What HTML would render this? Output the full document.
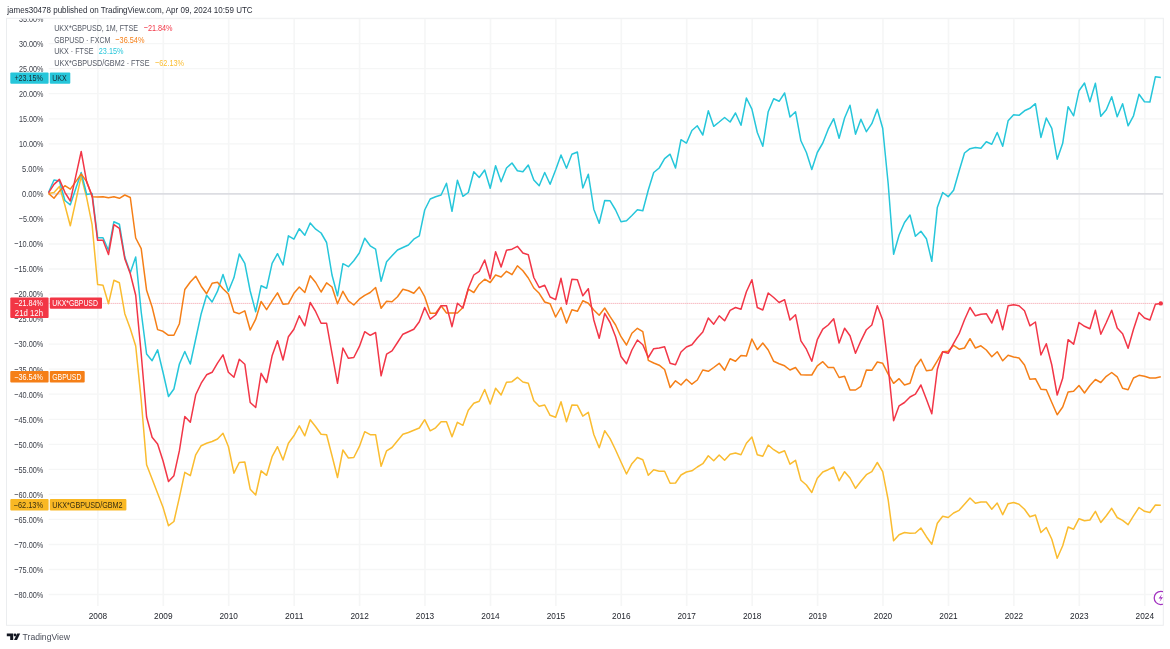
<!DOCTYPE html><html><head><meta charset="utf-8"><title>chart</title><style>html,body{margin:0;padding:0;background:#fff;width:1170px;height:649px;overflow:hidden}svg{position:absolute;left:0;top:0;display:block;will-change:transform}text{font-family:"Liberation Sans",sans-serif}</style></head><body>
<svg width="1170" height="649" viewBox="0 0 1170 649">
<rect x="0" y="0" width="1170" height="649" fill="#fff"/>
<text x="7.3" y="13.0" font-size="9.2" fill="#2a2e39" textLength="245.3" lengthAdjust="spacingAndGlyphs">james30478 published on TradingView.com, Apr 09, 2024 10:59 UTC</text>
<rect x="6.5" y="18.3" width="1156.8" height="607.0" fill="none" stroke="#ebedef" stroke-width="1"/>
<defs><clipPath id="cp"><rect x="7" y="18.8" width="1156" height="606"/></clipPath><clipPath id="pl"><rect x="48" y="18.8" width="1115.3" height="587.2"/></clipPath></defs>
<g clip-path="url(#cp)">
<line x1="48.7" y1="18.6" x2="1163.3" y2="18.6" stroke="#f5f6f6" stroke-width="1.3"/>
<line x1="48.7" y1="43.7" x2="1163.3" y2="43.7" stroke="#f5f6f6" stroke-width="1.3"/>
<line x1="48.7" y1="68.7" x2="1163.3" y2="68.7" stroke="#f5f6f6" stroke-width="1.3"/>
<line x1="48.7" y1="93.7" x2="1163.3" y2="93.7" stroke="#f5f6f6" stroke-width="1.3"/>
<line x1="48.7" y1="118.8" x2="1163.3" y2="118.8" stroke="#f5f6f6" stroke-width="1.3"/>
<line x1="48.7" y1="143.8" x2="1163.3" y2="143.8" stroke="#f5f6f6" stroke-width="1.3"/>
<line x1="48.7" y1="168.9" x2="1163.3" y2="168.9" stroke="#f5f6f6" stroke-width="1.3"/>
<line x1="48.7" y1="218.9" x2="1163.3" y2="218.9" stroke="#f5f6f6" stroke-width="1.3"/>
<line x1="48.7" y1="244.0" x2="1163.3" y2="244.0" stroke="#f5f6f6" stroke-width="1.3"/>
<line x1="48.7" y1="269.0" x2="1163.3" y2="269.0" stroke="#f5f6f6" stroke-width="1.3"/>
<line x1="48.7" y1="294.1" x2="1163.3" y2="294.1" stroke="#f5f6f6" stroke-width="1.3"/>
<line x1="48.7" y1="319.1" x2="1163.3" y2="319.1" stroke="#f5f6f6" stroke-width="1.3"/>
<line x1="48.7" y1="344.1" x2="1163.3" y2="344.1" stroke="#f5f6f6" stroke-width="1.3"/>
<line x1="48.7" y1="369.2" x2="1163.3" y2="369.2" stroke="#f5f6f6" stroke-width="1.3"/>
<line x1="48.7" y1="394.2" x2="1163.3" y2="394.2" stroke="#f5f6f6" stroke-width="1.3"/>
<line x1="48.7" y1="419.3" x2="1163.3" y2="419.3" stroke="#f5f6f6" stroke-width="1.3"/>
<line x1="48.7" y1="444.3" x2="1163.3" y2="444.3" stroke="#f5f6f6" stroke-width="1.3"/>
<line x1="48.7" y1="469.3" x2="1163.3" y2="469.3" stroke="#f5f6f6" stroke-width="1.3"/>
<line x1="48.7" y1="494.4" x2="1163.3" y2="494.4" stroke="#f5f6f6" stroke-width="1.3"/>
<line x1="48.7" y1="519.4" x2="1163.3" y2="519.4" stroke="#f5f6f6" stroke-width="1.3"/>
<line x1="48.7" y1="544.5" x2="1163.3" y2="544.5" stroke="#f5f6f6" stroke-width="1.3"/>
<line x1="48.7" y1="569.5" x2="1163.3" y2="569.5" stroke="#f5f6f6" stroke-width="1.3"/>
<line x1="48.7" y1="594.5" x2="1163.3" y2="594.5" stroke="#f5f6f6" stroke-width="1.3"/>
<line x1="97.9" y1="18.5" x2="97.9" y2="606" stroke="#f5f6f6" stroke-width="1.6"/>
<line x1="163.3" y1="18.5" x2="163.3" y2="606" stroke="#f5f6f6" stroke-width="1.6"/>
<line x1="228.7" y1="18.5" x2="228.7" y2="606" stroke="#f5f6f6" stroke-width="1.6"/>
<line x1="294.2" y1="18.5" x2="294.2" y2="606" stroke="#f5f6f6" stroke-width="1.6"/>
<line x1="359.6" y1="18.5" x2="359.6" y2="606" stroke="#f5f6f6" stroke-width="1.6"/>
<line x1="425.0" y1="18.5" x2="425.0" y2="606" stroke="#f5f6f6" stroke-width="1.6"/>
<line x1="490.5" y1="18.5" x2="490.5" y2="606" stroke="#f5f6f6" stroke-width="1.6"/>
<line x1="555.9" y1="18.5" x2="555.9" y2="606" stroke="#f5f6f6" stroke-width="1.6"/>
<line x1="621.3" y1="18.5" x2="621.3" y2="606" stroke="#f5f6f6" stroke-width="1.6"/>
<line x1="686.7" y1="18.5" x2="686.7" y2="606" stroke="#f5f6f6" stroke-width="1.6"/>
<line x1="752.2" y1="18.5" x2="752.2" y2="606" stroke="#f5f6f6" stroke-width="1.6"/>
<line x1="817.6" y1="18.5" x2="817.6" y2="606" stroke="#f5f6f6" stroke-width="1.6"/>
<line x1="883.0" y1="18.5" x2="883.0" y2="606" stroke="#f5f6f6" stroke-width="1.6"/>
<line x1="948.5" y1="18.5" x2="948.5" y2="606" stroke="#f5f6f6" stroke-width="1.6"/>
<line x1="1013.9" y1="18.5" x2="1013.9" y2="606" stroke="#f5f6f6" stroke-width="1.6"/>
<line x1="1079.3" y1="18.5" x2="1079.3" y2="606" stroke="#f5f6f6" stroke-width="1.6"/>
<line x1="1144.8" y1="18.5" x2="1144.8" y2="606" stroke="#f5f6f6" stroke-width="1.6"/>
<line x1="48.7" y1="193.9" x2="1163.3" y2="193.9" stroke="#dcdde2" stroke-width="1.6"/>
<text x="19.0" y="21.9" font-size="9.6" fill="#3d404a" textLength="24.4" lengthAdjust="spacingAndGlyphs">35.00%</text>
<text x="19.0" y="47.0" font-size="9.6" fill="#3d404a" textLength="24.4" lengthAdjust="spacingAndGlyphs">30.00%</text>
<text x="19.0" y="72.0" font-size="9.6" fill="#3d404a" textLength="24.4" lengthAdjust="spacingAndGlyphs">25.00%</text>
<text x="19.0" y="97.0" font-size="9.6" fill="#3d404a" textLength="24.4" lengthAdjust="spacingAndGlyphs">20.00%</text>
<text x="19.0" y="122.1" font-size="9.6" fill="#3d404a" textLength="24.4" lengthAdjust="spacingAndGlyphs">15.00%</text>
<text x="19.0" y="147.1" font-size="9.6" fill="#3d404a" textLength="24.4" lengthAdjust="spacingAndGlyphs">10.00%</text>
<text x="22.0" y="172.2" font-size="9.6" fill="#3d404a" textLength="21.4" lengthAdjust="spacingAndGlyphs">5.00%</text>
<text x="22.0" y="197.2" font-size="9.6" fill="#3d404a" textLength="21.4" lengthAdjust="spacingAndGlyphs">0.00%</text>
<text x="18.7" y="222.2" font-size="9.6" fill="#3d404a" textLength="24.7" lengthAdjust="spacingAndGlyphs">−5.00%</text>
<text x="14.2" y="247.3" font-size="9.6" fill="#3d404a" textLength="29.2" lengthAdjust="spacingAndGlyphs">−10.00%</text>
<text x="14.2" y="272.3" font-size="9.6" fill="#3d404a" textLength="29.2" lengthAdjust="spacingAndGlyphs">−15.00%</text>
<text x="14.2" y="297.4" font-size="9.6" fill="#3d404a" textLength="29.2" lengthAdjust="spacingAndGlyphs">−20.00%</text>
<text x="14.2" y="322.4" font-size="9.6" fill="#3d404a" textLength="29.2" lengthAdjust="spacingAndGlyphs">−25.00%</text>
<text x="14.2" y="347.4" font-size="9.6" fill="#3d404a" textLength="29.2" lengthAdjust="spacingAndGlyphs">−30.00%</text>
<text x="14.2" y="372.5" font-size="9.6" fill="#3d404a" textLength="29.2" lengthAdjust="spacingAndGlyphs">−35.00%</text>
<text x="14.2" y="397.5" font-size="9.6" fill="#3d404a" textLength="29.2" lengthAdjust="spacingAndGlyphs">−40.00%</text>
<text x="14.2" y="422.6" font-size="9.6" fill="#3d404a" textLength="29.2" lengthAdjust="spacingAndGlyphs">−45.00%</text>
<text x="14.2" y="447.6" font-size="9.6" fill="#3d404a" textLength="29.2" lengthAdjust="spacingAndGlyphs">−50.00%</text>
<text x="14.2" y="472.6" font-size="9.6" fill="#3d404a" textLength="29.2" lengthAdjust="spacingAndGlyphs">−55.00%</text>
<text x="14.2" y="497.7" font-size="9.6" fill="#3d404a" textLength="29.2" lengthAdjust="spacingAndGlyphs">−60.00%</text>
<text x="14.2" y="522.7" font-size="9.6" fill="#3d404a" textLength="29.2" lengthAdjust="spacingAndGlyphs">−65.00%</text>
<text x="14.2" y="547.8" font-size="9.6" fill="#3d404a" textLength="29.2" lengthAdjust="spacingAndGlyphs">−70.00%</text>
<text x="14.2" y="572.8" font-size="9.6" fill="#3d404a" textLength="29.2" lengthAdjust="spacingAndGlyphs">−75.00%</text>
<text x="14.2" y="597.8" font-size="9.6" fill="#3d404a" textLength="29.2" lengthAdjust="spacingAndGlyphs">−80.00%</text>
<text x="88.7" y="618.8" font-size="9.9" fill="#23262e" textLength="18.4" lengthAdjust="spacingAndGlyphs">2008</text>
<text x="154.1" y="618.8" font-size="9.9" fill="#23262e" textLength="18.4" lengthAdjust="spacingAndGlyphs">2009</text>
<text x="219.5" y="618.8" font-size="9.9" fill="#23262e" textLength="18.4" lengthAdjust="spacingAndGlyphs">2010</text>
<text x="285.0" y="618.8" font-size="9.9" fill="#23262e" textLength="18.4" lengthAdjust="spacingAndGlyphs">2011</text>
<text x="350.4" y="618.8" font-size="9.9" fill="#23262e" textLength="18.4" lengthAdjust="spacingAndGlyphs">2012</text>
<text x="415.8" y="618.8" font-size="9.9" fill="#23262e" textLength="18.4" lengthAdjust="spacingAndGlyphs">2013</text>
<text x="481.3" y="618.8" font-size="9.9" fill="#23262e" textLength="18.4" lengthAdjust="spacingAndGlyphs">2014</text>
<text x="546.7" y="618.8" font-size="9.9" fill="#23262e" textLength="18.4" lengthAdjust="spacingAndGlyphs">2015</text>
<text x="612.1" y="618.8" font-size="9.9" fill="#23262e" textLength="18.4" lengthAdjust="spacingAndGlyphs">2016</text>
<text x="677.5" y="618.8" font-size="9.9" fill="#23262e" textLength="18.4" lengthAdjust="spacingAndGlyphs">2017</text>
<text x="743.0" y="618.8" font-size="9.9" fill="#23262e" textLength="18.4" lengthAdjust="spacingAndGlyphs">2018</text>
<text x="808.4" y="618.8" font-size="9.9" fill="#23262e" textLength="18.4" lengthAdjust="spacingAndGlyphs">2019</text>
<text x="873.8" y="618.8" font-size="9.9" fill="#23262e" textLength="18.4" lengthAdjust="spacingAndGlyphs">2020</text>
<text x="939.3" y="618.8" font-size="9.9" fill="#23262e" textLength="18.4" lengthAdjust="spacingAndGlyphs">2021</text>
<text x="1004.7" y="618.8" font-size="9.9" fill="#23262e" textLength="18.4" lengthAdjust="spacingAndGlyphs">2022</text>
<text x="1070.1" y="618.8" font-size="9.9" fill="#23262e" textLength="18.4" lengthAdjust="spacingAndGlyphs">2023</text>
<text x="1135.6" y="618.8" font-size="9.9" fill="#23262e" textLength="18.4" lengthAdjust="spacingAndGlyphs">2024</text>
</g>
<line x1="48.7" y1="303.4" x2="1163" y2="303.4" stroke="#f49aa6" stroke-width="1" stroke-dasharray="1 1"/>
<g clip-path="url(#pl)" fill="none" stroke-width="1.5" stroke-linejoin="round">
<polyline points="48.5,193.4 54.0,192.4 59.4,186.4 64.9,205.3 70.3,225.8 75.8,201.0 81.2,176.2 86.7,197.8 92.1,224.7 97.6,284.5 103.0,285.3 108.5,303.7 113.9,280.3 119.4,282.8 124.8,313.7 130.3,328.7 135.7,346.0 141.2,400.0 146.6,464.8 152.1,479.0 157.6,493.2 163.0,507.3 168.5,525.7 173.9,521.5 179.4,497.3 184.8,472.3 190.3,475.7 195.7,454.8 201.2,445.7 206.6,443.2 212.1,441.5 217.5,439.0 223.0,433.2 228.4,446.5 233.9,473.2 239.3,462.5 244.8,462.0 250.2,489.2 255.7,495.0 261.1,470.8 266.6,475.3 272.1,456.7 277.5,446.7 283.0,460.0 288.4,443.3 293.9,435.8 299.3,425.8 304.8,435.8 310.2,419.7 315.7,426.7 321.1,434.2 326.6,434.7 332.0,455.8 337.5,477.5 342.9,450.0 348.4,458.0 353.8,457.5 359.3,446.7 364.7,431.7 370.2,434.7 375.6,434.7 381.1,466.3 386.6,450.8 392.0,447.5 397.5,440.8 402.9,434.2 408.4,432.5 413.8,430.3 419.3,428.0 424.7,419.7 430.2,430.8 435.6,427.8 441.1,421.7 446.5,421.7 452.0,436.7 457.4,422.3 462.9,425.3 468.3,410.3 473.8,403.3 479.2,401.2 484.7,389.5 490.2,404.0 495.6,388.3 501.1,395.0 506.5,382.3 512.0,381.7 517.4,377.3 522.9,382.0 528.3,383.3 533.8,400.7 539.2,406.2 544.7,405.0 550.1,415.3 555.6,417.3 561.0,401.7 566.5,421.7 571.9,405.0 577.4,405.3 582.8,416.2 588.3,412.3 593.8,434.5 599.2,447.8 604.7,430.7 610.1,438.7 615.6,450.0 621.0,462.0 626.5,474.0 631.9,463.7 637.4,457.5 642.8,459.7 648.3,475.3 653.7,469.7 659.2,471.3 664.6,471.3 670.1,483.3 675.5,483.0 681.0,475.0 686.4,472.0 691.9,470.8 697.3,467.0 702.8,463.7 708.3,455.8 713.7,460.8 719.2,455.0 724.6,460.3 730.1,454.2 735.5,453.0 741.0,454.7 746.4,443.3 751.9,437.0 757.3,454.7 762.8,456.3 768.2,445.0 773.7,449.7 779.1,453.0 784.6,450.8 790.0,464.2 795.5,460.3 800.9,480.3 806.4,485.0 811.8,492.5 817.3,478.3 822.8,472.0 828.2,469.7 833.7,467.0 839.1,480.8 844.6,471.7 850.0,478.0 855.5,488.3 860.9,481.3 866.4,474.7 871.8,471.7 877.3,462.5 882.7,471.7 888.2,500.0 893.6,540.8 899.1,534.7 904.5,532.5 910.0,533.3 915.4,533.0 920.9,528.0 926.4,536.7 931.8,544.2 937.3,523.3 942.7,516.3 948.2,517.5 953.6,513.0 959.1,510.3 964.5,504.2 970.0,498.0 975.4,503.3 980.9,502.0 986.3,502.0 991.8,509.2 997.2,503.0 1002.7,514.7 1008.1,503.7 1013.6,502.5 1019.0,504.2 1024.5,509.2 1029.9,516.7 1035.4,515.0 1040.9,532.5 1046.3,527.5 1051.8,539.2 1057.2,558.3 1062.7,545.8 1068.1,527.0 1073.6,529.2 1079.0,518.7 1084.5,520.8 1089.9,520.0 1095.4,511.3 1100.8,522.5 1106.3,515.8 1111.7,508.3 1117.2,517.5 1122.6,520.3 1128.1,524.7 1133.5,515.8 1139.0,507.5 1144.5,511.3 1149.9,512.5 1155.4,505.0 1160.8,505.3" stroke="#fabc30"/>
<polyline points="48.5,192.4 54.0,180.0 59.4,181.0 64.9,200.5 70.3,204.8 75.8,188.6 81.2,172.4 86.7,194.5 92.1,193.4 97.6,237.8 103.0,237.8 108.5,250.3 113.9,221.7 119.4,224.2 124.8,257.0 130.3,272.8 135.7,257.0 141.2,312.0 146.6,354.0 152.1,360.7 157.6,349.8 163.0,372.3 168.5,396.5 173.9,389.0 179.4,364.0 184.8,351.5 190.3,364.0 195.7,339.0 201.2,313.7 206.6,295.3 212.1,302.0 217.5,291.2 223.0,274.5 228.4,291.2 233.9,277.8 239.3,254.0 244.8,263.3 250.2,291.0 255.7,311.7 261.1,285.8 266.6,288.3 272.1,263.3 277.5,253.7 283.0,265.0 288.4,235.8 293.9,239.2 299.3,228.7 304.8,235.3 310.2,223.0 315.7,229.2 321.1,233.0 326.6,242.5 332.0,275.0 337.5,295.8 342.9,263.7 348.4,266.7 353.8,260.8 359.3,253.0 364.7,238.3 370.2,245.8 375.6,249.2 381.1,281.3 386.6,261.7 392.0,255.8 397.5,250.0 402.9,247.5 408.4,245.0 413.8,239.2 419.3,235.8 424.7,210.0 430.2,199.0 435.6,196.7 441.1,195.0 446.5,183.3 452.0,211.3 457.4,180.3 462.9,196.3 468.3,192.5 473.8,171.7 479.2,177.5 484.7,170.0 490.2,188.3 495.6,165.8 501.1,181.7 506.5,168.0 512.0,163.0 517.4,170.8 522.9,171.7 528.3,165.0 533.8,180.0 539.2,185.8 544.7,172.5 550.1,184.2 555.6,170.0 561.0,155.0 566.5,168.3 571.9,154.2 577.4,152.0 582.8,188.0 588.3,174.2 593.8,209.2 599.2,223.3 604.7,200.5 610.1,200.8 615.6,210.0 621.0,221.7 626.5,220.8 631.9,215.5 637.4,209.7 642.8,210.8 648.3,190.0 653.7,172.5 659.2,168.0 664.6,158.7 670.1,154.2 675.5,168.0 681.0,139.7 686.4,143.2 691.9,130.5 697.3,125.8 702.8,135.0 708.3,110.8 713.7,126.3 719.2,122.0 724.6,117.5 730.1,122.0 735.5,113.0 741.0,125.3 746.4,98.0 751.9,109.2 757.3,132.5 762.8,146.3 768.2,111.7 773.7,98.7 779.1,101.3 784.6,93.0 790.0,117.0 795.5,111.7 800.9,140.8 806.4,152.5 811.8,169.5 817.3,152.5 822.8,143.0 828.2,129.2 833.7,118.7 839.1,138.3 844.6,118.0 850.0,105.3 855.5,134.2 860.9,119.2 866.4,131.7 871.8,123.7 877.3,109.2 882.7,128.3 888.2,184.0 893.6,254.2 899.1,235.0 904.5,222.5 910.0,215.0 915.4,236.3 920.9,231.3 926.4,238.7 931.8,261.3 937.3,207.5 942.7,192.5 948.2,196.7 953.6,190.3 959.1,171.0 964.5,153.0 970.0,148.7 975.4,147.5 980.9,148.3 986.3,141.7 991.8,144.2 997.2,132.5 1002.7,146.3 1008.1,120.8 1013.6,114.7 1019.0,115.3 1024.5,110.8 1029.9,108.3 1035.4,103.7 1040.9,137.5 1046.3,118.0 1051.8,128.3 1057.2,159.2 1062.7,143.3 1068.1,106.7 1073.6,115.8 1079.0,90.8 1084.5,83.0 1089.9,101.7 1095.4,83.3 1100.8,116.3 1106.3,109.7 1111.7,96.7 1117.2,116.7 1122.6,103.7 1128.1,125.8 1133.5,115.8 1139.0,94.2 1144.5,101.7 1149.9,102.0 1155.4,76.7 1160.8,77.5" stroke="#26c6da"/>
<polyline points="48.5,193.4 54.0,198.3 59.4,191.3 64.9,185.7 70.3,189.1 75.8,181.6 81.2,174.0 86.7,181.6 92.1,196.7 97.6,197.0 103.0,196.7 108.5,197.8 113.9,196.7 119.4,198.3 124.8,195.0 130.3,197.5 135.7,238.0 141.2,248.7 146.6,290.3 152.1,307.0 157.6,329.6 163.0,331.3 168.5,335.3 173.9,335.3 179.4,323.7 184.8,289.5 190.3,282.0 195.7,276.2 201.2,286.2 206.6,293.7 212.1,283.3 217.5,282.3 223.0,288.7 228.4,294.0 233.9,312.0 239.3,313.7 244.8,310.8 250.2,330.0 255.7,319.2 261.1,301.5 266.6,309.7 272.1,300.8 277.5,292.8 283.0,304.2 288.4,303.7 293.9,293.3 299.3,287.0 304.8,292.5 310.2,275.8 315.7,282.5 321.1,292.0 326.6,282.8 332.0,287.0 337.5,303.7 342.9,291.3 348.4,300.8 353.8,305.0 359.3,299.2 364.7,295.3 370.2,292.5 375.6,287.5 381.1,308.3 386.6,301.3 392.0,301.7 397.5,296.7 402.9,289.2 408.4,290.8 413.8,293.3 419.3,287.0 424.7,296.7 430.2,313.3 435.6,313.3 441.1,305.8 446.5,313.0 452.0,313.0 457.4,313.0 462.9,307.5 468.3,289.2 473.8,292.5 479.2,284.2 484.7,279.2 490.2,282.5 495.6,275.0 501.1,277.0 506.5,271.3 512.0,274.7 517.4,265.8 522.9,270.8 528.3,278.0 533.8,288.0 539.2,293.3 544.7,302.0 550.1,303.7 555.6,317.0 561.0,307.5 566.5,323.0 571.9,309.7 577.4,311.3 582.8,300.8 588.3,303.3 593.8,310.0 599.2,315.3 604.7,308.0 610.1,316.7 615.6,325.0 621.0,336.7 626.5,345.0 631.9,333.3 637.4,328.3 642.8,331.7 648.3,360.3 653.7,363.0 659.2,365.2 664.6,369.5 670.1,387.5 675.5,380.8 681.0,385.0 686.4,379.2 691.9,384.2 697.3,380.0 702.8,370.0 708.3,371.3 713.7,367.5 719.2,363.3 724.6,370.3 730.1,358.7 735.5,361.3 741.0,355.5 746.4,356.0 751.9,339.0 757.3,349.7 762.8,343.0 768.2,350.0 773.7,361.3 779.1,363.7 784.6,365.8 790.0,370.0 795.5,367.5 800.9,374.7 806.4,375.0 811.8,375.0 817.3,365.8 822.8,361.7 828.2,367.5 833.7,367.5 839.1,377.5 844.6,376.3 850.0,390.0 855.5,390.0 860.9,386.3 866.4,370.0 871.8,370.3 877.3,362.0 882.7,363.3 888.2,374.2 893.6,383.3 899.1,378.7 904.5,385.0 910.0,383.3 915.4,366.7 920.9,359.2 926.4,370.8 931.8,370.0 937.3,360.8 942.7,351.7 948.2,351.3 953.6,345.3 959.1,349.2 964.5,348.0 970.0,338.7 975.4,348.0 980.9,345.8 986.3,350.0 991.8,356.7 997.2,351.7 1002.7,360.8 1008.1,355.3 1013.6,357.0 1019.0,358.0 1024.5,365.0 1029.9,379.2 1035.4,378.7 1040.9,389.2 1046.3,389.7 1051.8,402.5 1057.2,414.7 1062.7,407.0 1068.1,392.0 1073.6,391.3 1079.0,385.5 1084.5,393.0 1089.9,385.5 1095.4,379.5 1100.8,382.5 1106.3,376.3 1111.7,372.5 1117.2,376.8 1122.6,388.3 1128.1,389.7 1133.5,378.0 1139.0,375.3 1144.5,376.3 1149.9,378.0 1155.4,378.0 1160.8,376.8" stroke="#f57f17"/>
<polyline points="48.5,192.9 54.0,184.4 59.4,179.4 64.9,192.3 70.3,201.0 75.8,176.1 81.2,151.5 86.7,182.1 92.1,195.6 97.6,240.3 103.0,240.3 108.5,254.5 113.9,224.7 119.4,228.4 124.8,258.7 130.3,273.7 135.7,295.3 141.2,354.0 146.6,417.0 152.1,437.3 157.6,444.0 163.0,460.7 168.5,481.5 173.9,475.7 179.4,450.7 184.8,416.5 190.3,422.3 195.7,394.8 201.2,383.2 206.6,374.8 212.1,372.3 217.5,363.2 223.0,354.8 228.4,372.3 233.9,377.3 239.3,359.2 244.8,364.2 250.2,402.5 255.7,407.5 261.1,373.3 266.6,382.5 272.1,355.8 277.5,340.8 283.0,360.0 288.4,336.7 293.9,329.2 299.3,315.8 304.8,325.8 310.2,302.5 315.7,311.7 321.1,323.3 326.6,323.3 332.0,353.3 337.5,383.3 342.9,348.0 348.4,358.3 353.8,357.5 359.3,346.7 364.7,331.7 370.2,335.3 375.6,332.5 381.1,375.8 386.6,354.2 392.0,350.8 397.5,342.5 402.9,334.2 408.4,331.7 413.8,329.2 419.3,321.7 424.7,307.5 430.2,319.2 435.6,315.0 441.1,305.8 446.5,305.8 452.0,326.7 457.4,303.3 462.9,308.0 468.3,288.3 473.8,275.0 479.2,271.3 484.7,260.0 490.2,278.7 495.6,251.7 501.1,267.0 506.5,250.3 512.0,249.2 517.4,246.3 522.9,253.0 528.3,254.7 533.8,277.5 539.2,287.5 544.7,285.3 550.1,297.0 555.6,299.7 561.0,278.3 566.5,304.2 571.9,279.2 577.4,279.7 582.8,295.8 588.3,288.7 593.8,320.0 599.2,338.3 604.7,313.3 610.1,322.5 615.6,336.7 621.0,356.5 626.5,363.7 631.9,350.0 637.4,340.0 642.8,344.7 648.3,357.5 653.7,348.7 659.2,348.0 664.6,346.7 670.1,363.3 675.5,364.7 681.0,352.0 686.4,347.0 691.9,344.7 697.3,338.0 702.8,332.0 708.3,318.0 713.7,324.2 719.2,315.8 724.6,320.8 730.1,310.3 735.5,307.5 741.0,309.2 746.4,291.7 751.9,279.7 757.3,307.5 762.8,310.0 768.2,293.0 773.7,297.5 779.1,302.5 784.6,299.7 790.0,320.0 795.5,314.7 800.9,340.8 806.4,349.2 811.8,361.3 817.3,339.7 822.8,329.2 828.2,325.0 833.7,318.7 839.1,343.0 844.6,328.3 850.0,335.8 855.5,353.3 860.9,340.8 866.4,329.7 871.8,325.0 877.3,305.8 882.7,320.0 888.2,366.7 893.6,420.8 899.1,405.8 904.5,402.5 910.0,397.0 915.4,394.2 920.9,385.0 926.4,399.2 931.8,413.7 937.3,369.5 942.7,351.7 948.2,353.3 953.6,343.3 959.1,333.7 964.5,319.7 970.0,307.5 975.4,315.8 980.9,314.2 986.3,313.7 991.8,323.0 997.2,309.7 1002.7,329.7 1008.1,305.8 1013.6,304.7 1019.0,305.8 1024.5,310.8 1029.9,325.8 1035.4,322.0 1040.9,355.0 1046.3,343.7 1051.8,365.0 1057.2,395.0 1062.7,378.3 1068.1,339.7 1073.6,344.2 1079.0,322.5 1084.5,326.3 1089.9,328.7 1095.4,310.3 1100.8,334.2 1106.3,322.5 1111.7,310.3 1117.2,328.0 1122.6,333.7 1128.1,348.3 1133.5,329.2 1139.0,312.5 1144.5,318.0 1149.9,320.0 1155.4,304.2 1160.8,303.4" stroke="#f23647"/>
</g>
<circle cx="1160.8" cy="303.4" r="2.2" fill="#f23647"/>
<text x="54.2" y="31.4" font-size="9.4" fill="#555a66" textLength="83.8" lengthAdjust="spacingAndGlyphs">UKX*GBPUSD, 1M, FTSE</text>
<text x="143.7" y="31.4" font-size="9.4" fill="#f23647" textLength="28.9" lengthAdjust="spacingAndGlyphs">−21.84%</text>
<text x="54.2" y="42.9" font-size="9.4" fill="#555a66" textLength="56.2" lengthAdjust="spacingAndGlyphs">GBPUSD · FXCM</text>
<text x="115.3" y="42.9" font-size="9.4" fill="#f57f17" textLength="29.1" lengthAdjust="spacingAndGlyphs">−36.54%</text>
<text x="54.2" y="54.4" font-size="9.4" fill="#555a66" textLength="39.3" lengthAdjust="spacingAndGlyphs">UKX · FTSE</text>
<text x="98.8" y="54.4" font-size="9.4" fill="#26c6da" textLength="24.7" lengthAdjust="spacingAndGlyphs">23.15%</text>
<text x="54.2" y="65.8" font-size="9.4" fill="#555a66" textLength="95.3" lengthAdjust="spacingAndGlyphs">UKX*GBPUSD/GBM2 · FTSE</text>
<text x="155.0" y="65.8" font-size="9.4" fill="#fabc30" textLength="29.1" lengthAdjust="spacingAndGlyphs">−62.13%</text>
<rect x="10.3" y="72.4" width="38.3" height="11.3" rx="1" fill="#26c6da"/><rect x="49.8" y="72.4" width="20.5" height="11.3" rx="1" fill="#26c6da"/><text x="14.4" y="81.0" font-size="8.6" fill="#1a2a33" textLength="28.6" lengthAdjust="spacingAndGlyphs">+23.15%</text><text x="52.2" y="81.0" font-size="8.6" fill="#1a2a33" textLength="14.5" lengthAdjust="spacingAndGlyphs">UKX</text>
<rect x="10.3" y="297.4" width="38.3" height="20.5" rx="1" fill="#f23645"/><rect x="49.8" y="297.4" width="52.2" height="11.4" rx="1" fill="#f23645"/><text x="14.2" y="306.0" font-size="8.6" fill="#ffffff" textLength="28.8" lengthAdjust="spacingAndGlyphs">−21.84%</text><text x="14.8" y="316.1" font-size="8.6" fill="#ffffff" textLength="28.2" lengthAdjust="spacingAndGlyphs">21d 12h</text><text x="52.2" y="306.0" font-size="8.6" fill="#ffffff" textLength="45.7" lengthAdjust="spacingAndGlyphs">UKX*GBPUSD</text>
<rect x="10.3" y="371.1" width="38.3" height="11.5" rx="1" fill="#f57f17"/><rect x="49.8" y="371.1" width="34.9" height="11.5" rx="1" fill="#f57f17"/><text x="14.2" y="379.7" font-size="8.6" fill="#ffffff" textLength="28.8" lengthAdjust="spacingAndGlyphs">−36.54%</text><text x="52.2" y="379.7" font-size="8.6" fill="#ffffff" textLength="29.2" lengthAdjust="spacingAndGlyphs">GBPUSD</text>
<rect x="10.3" y="499.1" width="38.3" height="11.5" rx="1" fill="#f9b824"/><rect x="49.8" y="499.1" width="76.6" height="11.5" rx="1" fill="#f9b824"/><text x="13.6" y="507.7" font-size="8.6" fill="#3a2f10" textLength="29.4" lengthAdjust="spacingAndGlyphs">−62.13%</text><text x="52.2" y="507.7" font-size="8.6" fill="#3a2f10" textLength="70.4" lengthAdjust="spacingAndGlyphs">UKX*GBPUSD/GBM2</text>
<g clip-path="url(#cp)"><circle cx="1160.8" cy="597.9" r="6.6" fill="#fff" stroke="#a232c0" stroke-width="1.25"/><path d="M1162.2,593.8 L1158.6,598.4 L1161,598.4 L1159.4,602 L1163,597.2 L1160.6,597.2 Z" fill="#a232c0"/></g>
<g fill="#131722"><path d="M6.8,633.4 h6.4 v6.6 h-3 v-3.7 h-3.4 z"/><circle cx="15" cy="635" r="1.4"/><path d="M17.2,633.4 h3 l-3.2,6.6 h-3 z"/></g>
<text x="22.6" y="640" font-size="8.6" fill="#4a4e59">TradingView</text>
</svg></body></html>
